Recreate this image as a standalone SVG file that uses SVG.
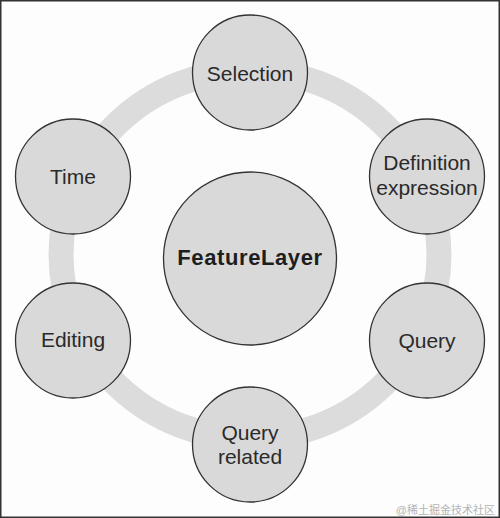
<svg xmlns="http://www.w3.org/2000/svg" width="500" height="518" viewBox="0 0 500 518">
  <style>
    .node { fill: #d9d9d9; stroke: #333333; stroke-width: 1.3; }
    .lbl { font-family: "Liberation Sans", Arial, sans-serif; font-size: 21px; fill: #2a2a2a; text-anchor: middle; }
    .main { font-family: "Liberation Sans", Arial, sans-serif; font-size: 22px; font-weight: bold; fill: #1e1e1e; text-anchor: middle; letter-spacing: 0.6px; }
    .wm { font-family: "Liberation Sans", "Noto Sans CJK SC", sans-serif; font-size: 11px; fill: #b4b4b4; text-anchor: end; }
  </style>
  <rect x="0.75" y="0.75" width="498.5" height="516.5" fill="#fdfdfd" stroke="#333333" stroke-width="1.5"/>
  <g id="connectors">
    <ellipse cx="250" cy="254.5" rx="189" ry="184" fill="none" stroke="#dcdcdc" stroke-width="25"/>
  </g>
  <g id="featurelayer">
    <circle class="node" cx="250" cy="258.5" r="86.5"/>
    <text class="main" x="250" y="265">FeatureLayer</text>
  </g>
  <g id="selection">
    <circle class="node" cx="250" cy="72.5" r="57.5"/>
    <text class="lbl" x="250" y="81">Selection</text>
  </g>
  <g id="definition-expression">
    <circle class="node" cx="427" cy="176.5" r="57.5"/>
    <text class="lbl" x="427" y="170">Definition</text>
    <text class="lbl" x="427" y="195">expression</text>
  </g>
  <g id="query">
    <circle class="node" cx="427" cy="340.5" r="57.5"/>
    <text class="lbl" x="427" y="348">Query</text>
  </g>
  <g id="query-related">
    <circle class="node" cx="250" cy="444.5" r="57.5"/>
    <text class="lbl" x="250" y="440">Query</text>
    <text class="lbl" x="250" y="464">related</text>
  </g>
  <g id="editing">
    <circle class="node" cx="73" cy="340.5" r="57.5"/>
    <text class="lbl" x="73" y="347">Editing</text>
  </g>
  <g id="time">
    <circle class="node" cx="73" cy="176.5" r="57.5"/>
    <text class="lbl" x="73" y="184">Time</text>
  </g>
  <text class="wm" x="495" y="514">@稀土掘金技术社区</text>
</svg>
